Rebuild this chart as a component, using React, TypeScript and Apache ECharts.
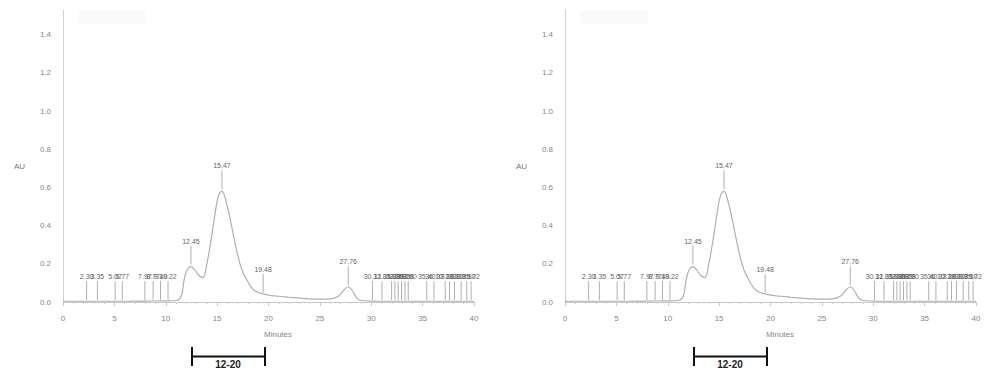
import React, { useEffect, useRef } from "react";
import * as echarts from "echarts";

// Chromatogram trace (minutes, AU)
const times = [0, 2, 4, 6, 8, 10, 11, 11.5, 11.8, 12.1, 12.45, 12.8, 13.2, 13.6, 14.0, 14.45, 14.85, 15.15, 15.47, 15.9, 16.4, 16.9, 17.4, 17.9, 18.5, 19.0, 19.5, 20, 21, 22, 23, 24, 25, 26, 26.8, 27.3, 27.76, 28.2, 28.6, 29, 30, 32, 34, 36, 38, 40];
const absorbance = [0.004, 0.004, 0.004, 0.004, 0.005, 0.006, 0.008, 0.03, 0.12, 0.17, 0.185, 0.17, 0.14, 0.128, 0.2, 0.34, 0.48, 0.56, 0.58, 0.52, 0.4, 0.27, 0.17, 0.115, 0.066, 0.05, 0.042, 0.036, 0.03, 0.025, 0.02, 0.016, 0.015, 0.016, 0.03, 0.06, 0.08, 0.055, 0.02, 0.008, 0.005, 0.004, 0.004, 0.004, 0.004, 0.004];

// Peak markers: retention time, base absorbance, label
const markerTimes = [2.30, 3.35, 5.07, 5.77, 7.97, 8.77, 9.49, 10.22, 12.45, 15.47, 19.48, 27.76, 30.12, 31.05, 31.98, 32.30, 32.62, 32.95, 33.28, 33.60, 35.40, 36.10, 37.20, 37.62, 38.10, 38.75, 39.30, 39.72];
const markerBase = [0.004, 0.004, 0.004, 0.004, 0.005, 0.005, 0.006, 0.006, 0.19, 0.585, 0.042, 0.082, 0.005, 0.004, 0.004, 0.004, 0.004, 0.004, 0.004, 0.004, 0.004, 0.004, 0.004, 0.004, 0.004, 0.004, 0.004, 0.004];
const markerLabels = ["2.30", "3.35", "5.07", "5.77", "7.97", "8.77", "9.49", "10.22", "12.45", "15.47", "19.48", "27.76", "30.12", "31.05", "31.98", "32.30", "32.62", "32.95", "33.28", "33.60", "35.40", "36.10", "37.20", "37.62", "38.10", "38.75", "39.30", "39.72"];

const xTicks = [0, 5, 10, 15, 20, 25, 30, 35, 40];
const yTicks = [0.0, 0.2, 0.4, 0.6, 0.8, 1.0, 1.2, 1.4];
const xAxisTitle = "Minutes";
const yAxisTitle = "AU";
const rangeLabel = "12-20";

const FONT = "Liberation Sans, Arial, sans-serif";
const PANEL_OFFSETS = [0, 502];

export default function App() {
  const ref = useRef<HTMLDivElement>(null);
  useEffect(() => {
    document.body.style.margin = "0";
    if (!ref.current) return;
    const chart = echarts.init(ref.current, null, { renderer: "svg" });
    const trace = times.map((t, i) => [t, absorbance[i]]);
    const markers = markerTimes.map((t, i) => [t, markerBase[i]]);

    const grids: any[] = [];
    const xAxes: any[] = [];
    const yAxes: any[] = [];
    const series: any[] = [];
    const graphics: any[] = [];

    PANEL_OFFSETS.forEach((off, k) => {
      grids.push({ left: 63 + off, top: 10, width: 411, height: 292 });
      xAxes.push({
        type: "value",
        gridIndex: k,
        min: xTicks[0],
        max: xTicks[xTicks.length - 1],
        interval: 5,
        axisLine: { show: true, lineStyle: { color: "#c8c8c8", width: 1 } },
        axisTick: { show: true, length: 4, lineStyle: { color: "#c8c8c8" } },
        minorTick: { show: true, splitNumber: 5, length: 2, lineStyle: { color: "#d0d0d0" } },
        splitLine: { show: false },
        axisLabel: { color: "#888", fontSize: 8, fontFamily: FONT, margin: 12 },
      });
      yAxes.push({
        type: "value",
        gridIndex: k,
        min: yTicks[0],
        max: 1.53,
        interval: 0.2,
        axisLine: { show: true, lineStyle: { color: "#d0d0d0", width: 1 } },
        axisTick: { show: false },
        splitLine: { show: false },
        axisLabel: {
          color: "#888",
          fontSize: 8,
          fontFamily: FONT,
          margin: 12,
          showMaxLabel: false,
          formatter: (v: number) => v.toFixed(1),
        },
      });
      series.push({
        type: "line",
        xAxisIndex: k,
        yAxisIndex: k,
        data: trace,
        smooth: 0.4,
        symbol: "none",
        lineStyle: { color: "#b0b0b0", width: 1.2 },
        silent: true,
      });
      series.push({
        type: "custom",
        xAxisIndex: k,
        yAxisIndex: k,
        coordinateSystem: "cartesian2d",
        data: markers,
        silent: true,
        itemStyle: { color: "#666" },
        renderItem: (params: any, api: any) => {
          const p = api.coord([api.value(0), api.value(1)]);
          return {
            type: "group",
            children: [
              {
                type: "line",
                shape: { x1: p[0], y1: p[1] - 1, x2: p[0], y2: p[1] - 20 },
                style: { stroke: "#b0b0b0", lineWidth: 1, fill: null },
              },
              {
                type: "text",
                x: p[0],
                y: p[1] - 21,
                style: {
                  text: markerLabels[params.dataIndex],
                  fill: "#666",
                  stroke: null,
                  font: `7px ${FONT}`,
                  align: "center",
                  verticalAlign: "bottom",
                },
              },
            ],
          };
        },
      });
      graphics.push(
        {
          type: "text",
          left: 14 + off,
          top: 162,
          style: { text: yAxisTitle, fill: "#777", font: `8px ${FONT}` },
        },
        {
          type: "text",
          left: 264 + off,
          top: 330,
          style: { text: xAxisTitle, fill: "#888", font: `8px ${FONT}` },
        },
        {
          type: "line",
          shape: { x1: 192 + off, y1: 356.5, x2: 265 + off, y2: 356.5 },
          style: { stroke: "#111", lineWidth: 2 },
        },
        {
          type: "line",
          shape: { x1: 192 + off, y1: 347, x2: 192 + off, y2: 366 },
          style: { stroke: "#111", lineWidth: 2 },
        },
        {
          type: "line",
          shape: { x1: 265 + off, y1: 347, x2: 265 + off, y2: 366 },
          style: { stroke: "#111", lineWidth: 2 },
        },
        {
          type: "text",
          x: 228 + off,
          y: 359,
          style: {
            text: rangeLabel,
            fill: "#222",
            font: `bold 10px ${FONT}`,
            align: "center",
            verticalAlign: "top",
          },
        },
        {
          type: "rect",
          shape: { x: 78 + off, y: 10, width: 68, height: 14 },
          style: { fill: "#fafafa" },
        }
      );
    });

    chart.setOption({
      animation: false,
      backgroundColor: "#fff",
      grid: grids,
      xAxis: xAxes,
      yAxis: yAxes,
      series,
      graphic: graphics,
    });
    return () => chart.dispose();
  }, []);
  return <div ref={ref} style={{ width: 988, height: 370 }} />;
}
